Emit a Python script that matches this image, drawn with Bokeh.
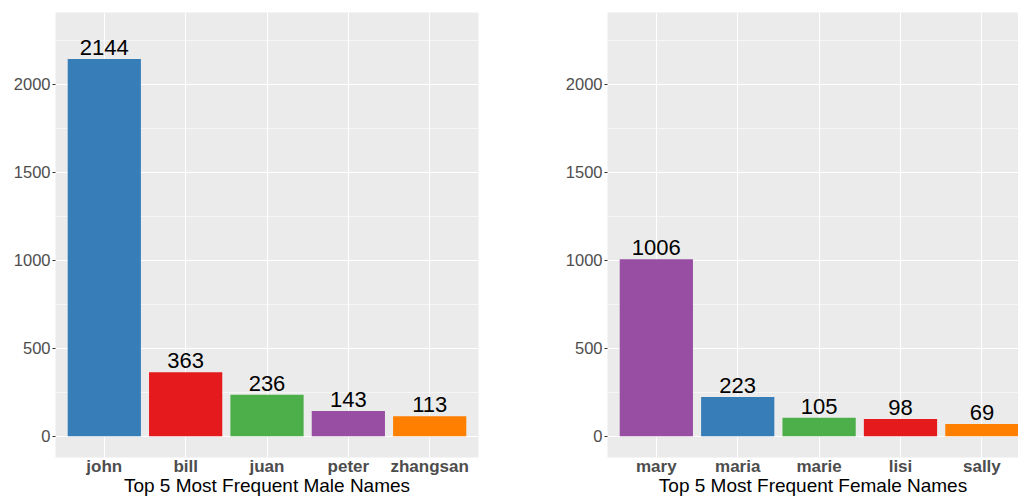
from bokeh.plotting import figure
from bokeh.layouts import row
from bokeh.models import Range1d, FixedTicker, SingleIntervalTicker, ColumnDataSource
from bokeh.core.properties import value
from bokeh.embed import file_html
from bokeh.resources import INLINE

male_names = ["john", "bill", "juan", "peter", "zhangsan"]
male_counts = [2144, 363, 236, 143, 113]
male_colors = ["#377EB8", "#E41A1C", "#4DAF4A", "#984EA3", "#FF7F00"]

female_names = ["mary", "maria", "marie", "lisi", "sally"]
female_counts = [1006, 223, 105, 98, 69]
female_colors = ["#984EA3", "#377EB8", "#4DAF4A", "#E41A1C", "#FF7F00"]

male_title = "Top 5 Most Frequent Male Names"
female_title = "Top 5 Most Frequent Female Names"

FONT = "Liberation Sans"


def panel(names, counts, colors, title, width, border_left, border_right, x_end):
    xs = list(range(1, len(names) + 1))
    src = ColumnDataSource(dict(x=xs, count=counts, color=colors,
                                label=[str(c) for c in counts]))
    p = figure(width=width, height=498, output_backend="svg", toolbar_location=None,
               x_range=Range1d(0.4, x_end), y_range=Range1d(-121, 2408),
               min_border_left=border_left, min_border_right=border_right,
               min_border_top=12, min_border_bottom=40)
    p.background_fill_color = "#EBEBEB"
    p.border_fill_color = "white"
    p.outline_line_color = None

    p.vbar(x="x", top="count", width=0.9, color="color", source=src, line_color=None)
    p.text(x="x", y="count", text="label", source=src, text_align="center",
           text_baseline="bottom", y_offset=-4, text_font=value(FONT),
           text_font_size="22px", text_color="black")

    # grids
    p.xgrid.ticker = FixedTicker(ticks=xs)
    p.xgrid.grid_line_color = "white"
    p.xgrid.grid_line_width = 1.1
    p.ygrid.ticker = SingleIntervalTicker(interval=500, num_minor_ticks=2)
    p.ygrid.grid_line_color = "white"
    p.ygrid.grid_line_width = 1.1
    p.ygrid.minor_grid_line_color = "white"
    p.ygrid.minor_grid_line_width = 0.55

    # x axis
    xa = p.xaxis[0]
    xa.ticker = FixedTicker(ticks=xs)
    xa.major_label_overrides = {i: n for i, n in zip(xs, names)}
    xa.major_tick_out = 0
    xa.major_tick_in = 0
    xa.minor_tick_out = 0
    xa.minor_tick_in = 0
    xa.axis_line_color = None
    xa.major_label_standoff = -1
    xa.major_label_text_font = FONT
    xa.major_label_text_font_style = "bold"
    xa.major_label_text_font_size = "17px"
    xa.major_label_text_color = "#4D4D4D"
    xa.axis_label = title
    xa.axis_label_standoff = -4
    xa.axis_label_text_font = FONT
    xa.axis_label_text_font_style = "normal"
    xa.axis_label_text_font_size = "19px"
    xa.axis_label_text_color = "black"

    # y axis
    ya = p.yaxis[0]
    ya.ticker = SingleIntervalTicker(interval=500, num_minor_ticks=0)
    ya.axis_line_color = None
    ya.major_tick_out = 3
    ya.major_tick_in = 0
    ya.major_tick_line_color = "#333333"
    ya.minor_tick_out = 0
    ya.minor_tick_in = 0
    ya.major_label_standoff = 2
    ya.major_label_text_font = FONT
    ya.major_label_text_font_size = "16.5px"
    ya.major_label_text_color = "#4D4D4D"
    return p


left = panel(male_names, male_counts, male_colors, male_title, 520, 55, 42, 5.6)
right = panel(female_names, female_counts, female_colors, female_title, 498, 87, 0, 5.45)

layout = row(left, right)
open("out.html", "w").write(file_html(layout, INLINE))
